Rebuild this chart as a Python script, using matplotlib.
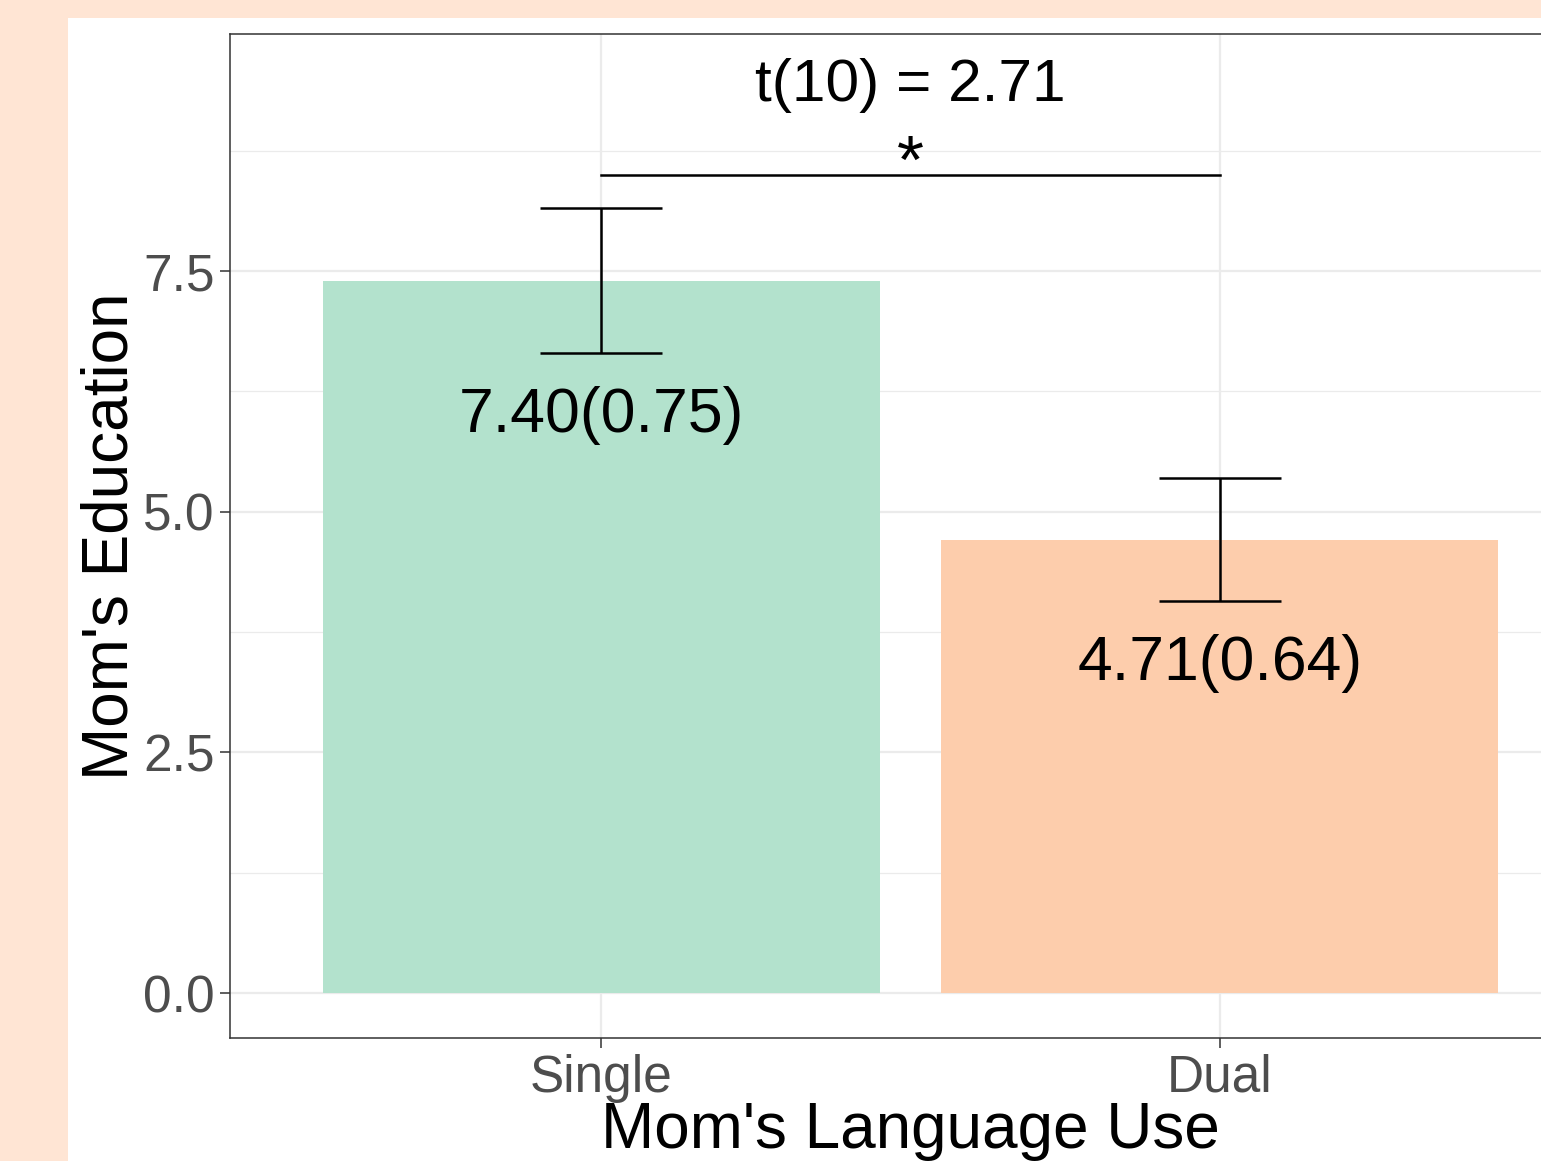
import matplotlib
matplotlib.use("Agg")
import matplotlib.pyplot as plt
from matplotlib.patches import Rectangle
from matplotlib.ticker import MultipleLocator

plt.rcParams["font.family"] = ["Liberation Sans", "DejaVu Sans"]

# group summaries: mean and standard error of mom's education
groups = ["Single", "Dual"]
means = [7.40, 4.71]
ses = [0.75, 0.64]
bar_colors = ["#B3E2CD", "#FDCDAC"]

t_label = "t(10) = 2.71"
sig_label = "*"
bracket_y = 8.5
t_label_y = 9.27

PEACH = "#FFE5D4"
GRID = "#EBEBEB"
FRAME = "#333333"
TICK_TEXT = "#4D4D4D"

W, H = 1541, 1161
fig = plt.figure(figsize=(W / 100, H / 100), dpi=100)
fig.patch.set_facecolor(PEACH)
fig.add_artist(Rectangle((68 / W, 0), 1 - 68 / W, (H - 18) / H,
                         transform=fig.transFigure, facecolor="white",
                         edgecolor="none", zorder=0))

# panel runs past the right edge of the canvas
ax = fig.add_axes([230 / W, (H - 1038) / H, 1361 / W, 1004 / H])
ax.set_facecolor("white")

x = list(range(1, len(groups) + 1))
ax.bar(x, means, width=0.9, color=bar_colors, zorder=2)
ax.errorbar(x, means, yerr=ses, fmt="none", ecolor="black", elinewidth=1.8,
            capsize=44, capthick=1.8, zorder=3)

for xi, m, s in zip(x, means, ses):
    ax.annotate(f"{m:.2f}({s:.2f})", xy=(xi, m - s), xytext=(0, -57),
                textcoords="offset points", ha="center", va="baseline",
                fontsize=45, color="black", zorder=4)

# significance bracket between the two groups
ax.plot([x[0], x[1]], [bracket_y, bracket_y], color="black", lw=1.8, zorder=3)
ax.annotate(sig_label, xy=(sum(x) / 2, bracket_y), xytext=(0, -6),
            textcoords="offset points", ha="center", va="baseline",
            fontsize=50, color="black")
ax.text(sum(x) / 2, t_label_y, t_label, ha="center", va="baseline",
        fontsize=43.5, color="black")

ax.set_xlim(0.4, 2.6)
ax.set_ylim(-0.467, 9.962)
ax.set_xticks(x)
ax.set_xticklabels(groups)
ax.yaxis.set_minor_locator(MultipleLocator(1.25))
ax.set_yticks([0, 2.5, 5.0, 7.5])
ax.set_yticklabels(["0.0", "2.5", "5.0", "7.5"])

ax.grid(which="major", color=GRID, lw=1.6, zorder=0)
ax.grid(which="minor", axis="y", color=GRID, lw=0.9, zorder=0)
ax.set_axisbelow(True)

ax.tick_params(axis="both", which="major", length=7.2, width=1.1, color=FRAME,
               labelsize=37, labelcolor=TICK_TEXT, pad=4)
ax.tick_params(axis="both", which="minor", length=0)
for side in ["left", "bottom", "top", "right"]:
    ax.spines[side].set_color(FRAME)
    ax.spines[side].set_linewidth(1.1)

ax.set_xlabel("Mom's Language Use", fontsize=46, color="black", labelpad=-1)
ax.set_ylabel("Mom's Education", fontsize=46, color="black", labelpad=2)

fig.savefig("out.png", dpi=100, facecolor=fig.get_facecolor())
